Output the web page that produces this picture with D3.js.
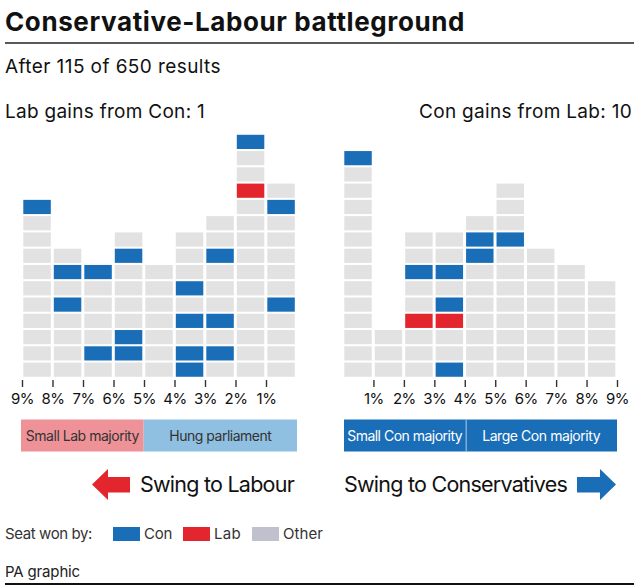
<!DOCTYPE html>
<html>
<head>
<meta charset="utf-8">
<script src="https://cdn.jsdelivr.net/npm/d3@7"></script>
<style>
  html, body { margin: 0; padding: 0; background: #fff; }
  svg { display: block; font-family: Inter, Roboto, sans-serif; }
</style>
</head>
<body>
<svg id="chart" width="640" height="587"></svg>
<script>
// ---- Data ----
const title = "Conservative-Labour battleground";
const subtitle = "After 115 of 650 results";
const leftHeading = "Lab gains from Con: 1";
const rightHeading = "Con gains from Lab: 10";

// Swing bins (upper edge, %) for each column
const leftBins = [9, 8, 7, 6, 5, 4, 3, 2, 1];
const rightBins = [1, 2, 3, 4, 5, 6, 7, 8, 9];
const leftTickLabels = ["9%", "8%", "7%", "6%", "5%", "4%", "3%", "2%", "1%"];
const rightTickLabels = ["1%", "2%", "3%", "4%", "5%", "6%", "7%", "8%", "9%"];

// Seats per column, bottom to top: C = Con, L = Lab, o = other / undeclared
const leftSeats = [
  "ooooooooooC",
  "ooooCoCo",
  "oCooooC",
  "oCCooooCo",
  "ooooooo",
  "CCoCoCooo",
  "oCoCoooCoo",
  "oooooooooooLooC",
  "ooooCoooooCo"
];
const rightSeats = [
  "oooooooooooooC",
  "ooo",
  "oooLooCoo",
  "CooLCoCoo",
  "oooooooCCo",
  "ooooooooCooo",
  "oooooooo",
  "ooooooo",
  "oooooo"
];

const bandsLeft = [
  { from: 9, to: 5, label: "Small Lab majority" },
  { from: 5, to: 0, label: "Hung parliament" }
];
const bandsRight = [
  { from: 0, to: 4, label: "Small Con majority" },
  { from: 4, to: 9, label: "Large Con majority" }
];
const legendItems = ["Con", "Lab", "Other"];

// ---- Styles ----
const colors = { C: "#1a6eb7", L: "#e3262d", o: "#e2e2e2" };
const legendColors = { Con: "#1a6eb7", Lab: "#e3262d", Other: "#c1c1cd" };

const svg = d3.select("#chart");

// fit text to a target width by adjusting letter-spacing
function fit(sel, target) {
  const n = sel.text().length;
  const w = sel.node().getComputedTextLength();
  sel.attr("letter-spacing", (target - w) / n);
  return sel;
}

// Header
fit(svg.append("text").attr("x", 5).attr("y", 31)
  .attr("font-size", 26).attr("font-weight", 700).attr("fill", "#111")
  .text(title), 460);
svg.append("line").attr("x1", 5).attr("x2", 634).attr("y1", 43).attr("y2", 43)
  .attr("stroke", "#222").attr("stroke-width", 1.5);
fit(svg.append("text").attr("x", 5).attr("y", 73)
  .attr("font-size", 19).attr("fill", "#111")
  .text(subtitle), 216);
fit(svg.append("text").attr("x", 5).attr("y", 118)
  .attr("font-size", 19).attr("fill", "#111")
  .text(leftHeading), 200);
fit(svg.append("text").attr("x", 632).attr("y", 118).attr("text-anchor", "end")
  .attr("font-size", 19).attr("fill", "#111")
  .text(rightHeading), 213);

// Scales
const xLeft = d3.scaleLinear().domain([9, 0]).range([22, 296.5]);
const xRight = d3.scaleLinear().domain([0, 9]).range([343, 617]);
const rowPitch = 16.27;
const yBottom = 377.5;
const y = d3.scaleLinear().domain([0, 15]).range([yBottom, yBottom - 15 * rowPitch]);
const cellH = 14.2;

function drawPanel(seats, bins, xs, isLeft) {
  const g = svg.append("g");
  seats.forEach((col, i) => {
    const b = bins[i];
    const x0 = isLeft ? xs(b) : xs(b - 1);
    const x1 = isLeft ? xs(b - 1) : xs(b);
    const cells = col.split("").map((s, r) => ({ s, r }));
    g.selectAll(null).data(cells).enter().append("rect")
      .attr("x", x0 + 1.3)
      .attr("width", x1 - x0 - 3)
      .attr("y", d => y(d.r + 1) + (rowPitch - cellH) / 2 + 0.3)
      .attr("height", cellH)
      .attr("fill", d => colors[d.s]);
  });
}
drawPanel(leftSeats, leftBins, xLeft, true);
drawPanel(rightSeats, rightBins, xRight, false);

// Axes
function drawAxis(xs, labels, vals) {
  const axis = d3.axisBottom(xs).tickValues(vals)
    .tickFormat((d, i) => labels[i]).tickSize(7).tickPadding(6);
  const g = svg.append("g").attr("transform", "translate(0,380)").call(axis);
  g.select(".domain").remove();
  g.selectAll(".tick line").attr("stroke", "#333").attr("stroke-width", 1.4);
  g.selectAll(".tick text").attr("font-size", 15).attr("fill", "#111")
    .attr("font-family", "Inter, sans-serif").attr("letter-spacing", -0.5)
    .attr("dy", "0.71em");
}
drawAxis(xLeft, leftTickLabels, leftBins);
drawAxis(xRight, rightTickLabels, rightBins);

// Bands
function drawBands(bands, xs, fills, textFill, widths) {
  bands.forEach((b, i) => {
    const x0 = Math.min(xs(b.from), xs(b.to)), x1 = Math.max(xs(b.from), xs(b.to));
    svg.append("rect").attr("x", x0).attr("y", 419.5).attr("width", x1 - x0).attr("height", 32)
      .attr("fill", fills[i]);
    fit(svg.append("text").attr("x", (x0 + x1) / 2).attr("y", 441).attr("text-anchor", "middle")
      .attr("font-size", 14).attr("fill", textFill)
      .text(b.label), widths[i]);
  });
}
drawBands(bandsLeft, d3.scaleLinear().domain([9, 0]).range([21, 297]), ["#ee9298", "#8fbfe1"], "#333", [113, 102]);
drawBands(bandsRight, d3.scaleLinear().domain([0, 9]).range([344, 617]), ["#1a6eb7", "#1a6eb7"], "#fff", [115, 118]);
svg.append("line").attr("x1", 466.5).attr("x2", 466.5).attr("y1", 419.5).attr("y2", 451.5)
  .attr("stroke", "#8fbfe1").attr("stroke-width", 0.8);

// Arrows + swing labels
svg.append("path")
  .attr("d", "M92,484.5 L108,469 L108,477 L130,477 L130,492.5 L108,492.5 L108,500 Z")
  .attr("fill", "#e3262d");
fit(svg.append("text").attr("x", 140).attr("y", 492).attr("font-size", 21.5).attr("fill", "#111")
  .text("Swing to Labour"), 154);
svg.append("path")
  .attr("d", "M616,484.5 L600,469 L600,477 L577,477 L577,492.5 L600,492.5 L600,500 Z")
  .attr("fill", "#1a6eb7");
fit(svg.append("text").attr("x", 344).attr("y", 492).attr("font-size", 21.5).attr("fill", "#111")
  .text("Swing to Conservatives"), 223);

// Legend
fit(svg.append("text").attr("x", 5).attr("y", 539).attr("font-size", 15).attr("fill", "#333")
  .text("Seat won by:"), 87);
const legendX = [113, 183, 252];
const legendW = [28, 27, 40];
legendItems.forEach((k, i) => {
  svg.append("rect").attr("x", legendX[i]).attr("y", 527).attr("width", 27).attr("height", 14)
    .attr("fill", legendColors[k]);
  fit(svg.append("text").attr("x", legendX[i] + 31).attr("y", 539).attr("font-size", 15)
    .attr("fill", "#333").text(k), legendW[i]);
});

// Footer
fit(svg.append("text").attr("x", 5).attr("y", 577).attr("font-size", 15).attr("fill", "#222")
  .text("PA graphic"), 75);
svg.append("line").attr("x1", 5).attr("x2", 634).attr("y1", 584).attr("y2", 584)
  .attr("stroke", "#111").attr("stroke-width", 2);
</script>
</body>
</html>
